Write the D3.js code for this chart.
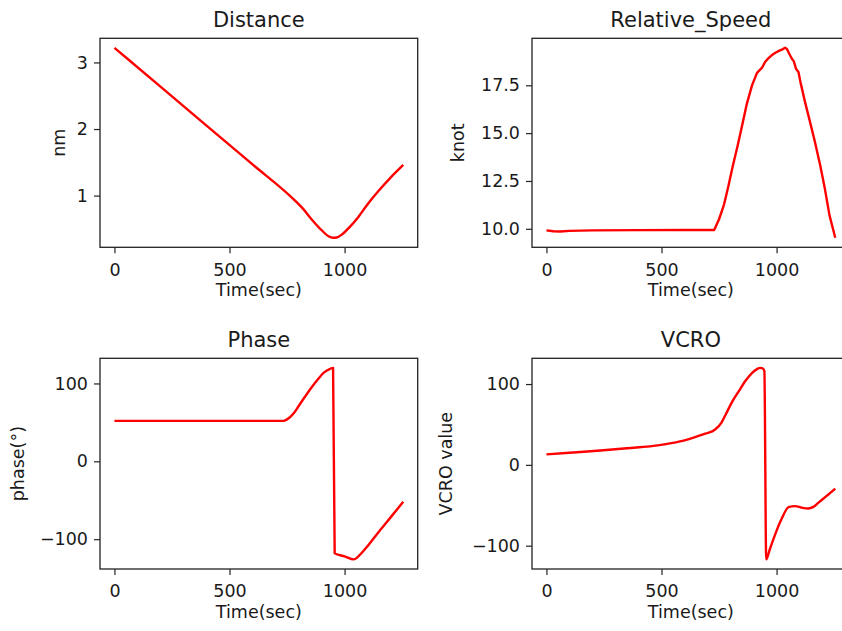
<!DOCTYPE html>
<html>
<head>
<meta charset="utf-8">
<script src="https://cdn.jsdelivr.net/npm/d3@7"></script>
<style>
  html, body { margin: 0; padding: 0; background: #fff; overflow: hidden; }
  svg { display: block; }
  text { font-family: "DejaVu Sans", sans-serif; fill: #1a1a1a; }
</style>
</head>
<body>
<svg id="chart" width="842" height="631"></svg>
<script>
// ---------------- data ----------------
const xTicks = [0, 500, 1000];

const distTime   = [0, 200, 400, 600, 780, 820, 860, 900, 930, 950, 965, 990, 1020, 1060, 1100, 1150, 1200, 1255];
const distValues = [3.22, 2.636, 2.052, 1.468, 0.94, 0.80, 0.63, 0.48, 0.39, 0.366, 0.37, 0.42, 0.52, 0.68, 0.87, 1.08, 1.27, 1.46];
const distTicks  = [1, 2, 3];

const speedTime   = [0, 30, 60, 100, 200, 400, 600, 729, 750, 772, 790, 808, 830, 851, 870, 894, 905, 915, 937, 950, 965, 980, 995, 1010, 1025, 1037, 1045, 1055, 1066, 1075, 1085, 1095, 1105, 1123, 1145, 1166, 1190, 1209, 1230, 1255];
const speedValues = [9.92, 9.87, 9.86, 9.89, 9.92, 9.93, 9.94, 9.94, 10.5, 11.28, 12.2, 13.19, 14.3, 15.44, 16.5, 17.52, 17.85, 18.15, 18.42, 18.72, 18.92, 19.08, 19.2, 19.3, 19.38, 19.46, 19.4, 19.15, 18.9, 18.75, 18.35, 18.2, 17.6, 16.66, 15.6, 14.58, 13.3, 12.15, 10.7, 9.53];
const speedTicks  = [10, 12.5, 15, 17.5];

const phaseTime   = [0, 200, 400, 600, 735, 760, 780, 805, 840, 878, 910, 935, 950, 957, 1000, 1040, 1060, 1094, 1150, 1200, 1255];
const phaseValues = [52, 52, 52, 52, 52, 56, 62, 73, 88, 103, 114, 118.5, 120, -118, -122, -126, -122, -111, -90, -72, -52];
const phaseTicks  = [-100, 0, 100];

const vcroTime   = [0, 100, 234, 350, 492, 580, 636, 690, 733, 760, 779, 805, 836, 865, 894, 915, 929, 940, 947, 955, 970, 994, 1020, 1052, 1080, 1110, 1138, 1160, 1181, 1215, 1255];
const vcroValues = [13, 15, 17.7, 20.5, 24.4, 29, 33.5, 38.5, 43.7, 52, 62.3, 77, 91.2, 104, 113.9, 118.5, 120, 119.5, 116, -117, -105, -86, -68, -52.4, -51, -53, -54, -52, -47, -39, -29.3];
const vcroTicks  = [-100, 0, 100];

// ---------------- layout ----------------
const svg = d3.select("#chart");
const panels = [
  { title: "Distance", ylabel: "nm", t: distTime, v: distValues, yticks: distTicks, fmt: d => String(d),
    x0: 100, x1: 417.7, y0: 38.3, y1: 247.3, ylabX: 65, curve: d3.curveMonotoneX },
  { title: "Relative_Speed", ylabel: "knot", t: speedTime, v: speedValues, yticks: speedTicks, fmt: d3.format(".1f"),
    x0: 532, x1: 849.7, y0: 38.3, y1: 247.3, ylabX: 464, curve: d3.curveLinear },
  { title: "Phase", ylabel: "phase(°)", t: phaseTime, v: phaseValues, yticks: phaseTicks, fmt: d => d < 0 ? "\u2212" + Math.abs(d) : String(d),
    x0: 100, x1: 417.7, y0: 358.3, y1: 569, ylabX: 24, curve: d3.curveMonotoneX },
  { title: "VCRO", ylabel: "VCRO value", t: vcroTime, v: vcroValues, yticks: vcroTicks, fmt: d => d < 0 ? "\u2212" + Math.abs(d) : String(d),
    x0: 532, x1: 849.7, y0: 358.3, y1: 569, ylabX: 452, curve: d3.curveMonotoneX }
];

function padded(ext) {
  const r = ext[1] - ext[0];
  return [ext[0] - 0.05 * r, ext[1] + 0.05 * r];
}

panels.forEach(p => {
  const x = d3.scaleLinear().domain(padded(d3.extent(p.t))).range([p.x0, p.x1]);
  const y = d3.scaleLinear().domain(padded(d3.extent(p.v))).range([p.y1, p.y0]);
  const g = svg.append("g");

  // line
  const pts = p.t.map((t, i) => [t, p.v[i]]);
  g.append("path")
    .datum(pts)
    .attr("fill", "none")
    .attr("stroke", "#ff0000")
    .attr("stroke-width", 2.4)
    .attr("stroke-linejoin", "round")
    .attr("d", d3.line().x(d => x(d[0])).y(d => y(d[1])).curve(p.curve));

  // x axis
  const xa = g.append("g")
    .attr("transform", `translate(0,${p.y1})`)
    .call(d3.axisBottom(x).tickValues(xTicks).tickSize(6).tickPadding(10).tickFormat(d => String(d)));
  xa.select(".domain").remove();
  xa.selectAll(".tick line").attr("stroke", "#222").attr("stroke-width", 1.2);
  xa.selectAll(".tick text").attr("font-size", 17.5).attr("font-family", "DejaVu Sans").attr("fill", "#1a1a1a");

  // y axis
  const ya = g.append("g")
    .attr("transform", `translate(${p.x0},0)`)
    .call(d3.axisLeft(y).tickValues(p.yticks).tickSize(6).tickPadding(6).tickFormat(p.fmt));
  ya.select(".domain").remove();
  ya.selectAll(".tick line").attr("stroke", "#222").attr("stroke-width", 1.2);
  ya.selectAll(".tick text").attr("font-size", 17.5).attr("font-family", "DejaVu Sans").attr("fill", "#1a1a1a");

  // frame
  g.append("rect")
    .attr("x", p.x0).attr("y", p.y0)
    .attr("width", p.x1 - p.x0).attr("height", p.y1 - p.y0)
    .attr("fill", "none").attr("stroke", "#222").attr("stroke-width", 1.3);

  // title
  g.append("text")
    .attr("x", (p.x0 + p.x1) / 2).attr("y", p.y0 - 11.3)
    .attr("text-anchor", "middle").attr("font-size", 21)
    .text(p.title);

  // x label
  g.append("text")
    .attr("x", (p.x0 + p.x1) / 2).attr("y", p.y1 + 49)
    .attr("text-anchor", "middle").attr("font-size", 17.5)
    .text("Time(sec)");

  // y label
  g.append("text")
    .attr("transform", `translate(${p.ylabX},${(p.y0 + p.y1) / 2}) rotate(-90)`)
    .attr("text-anchor", "middle").attr("font-size", 17.5)
    .text(p.ylabel);
});
</script>
</body>
</html>
